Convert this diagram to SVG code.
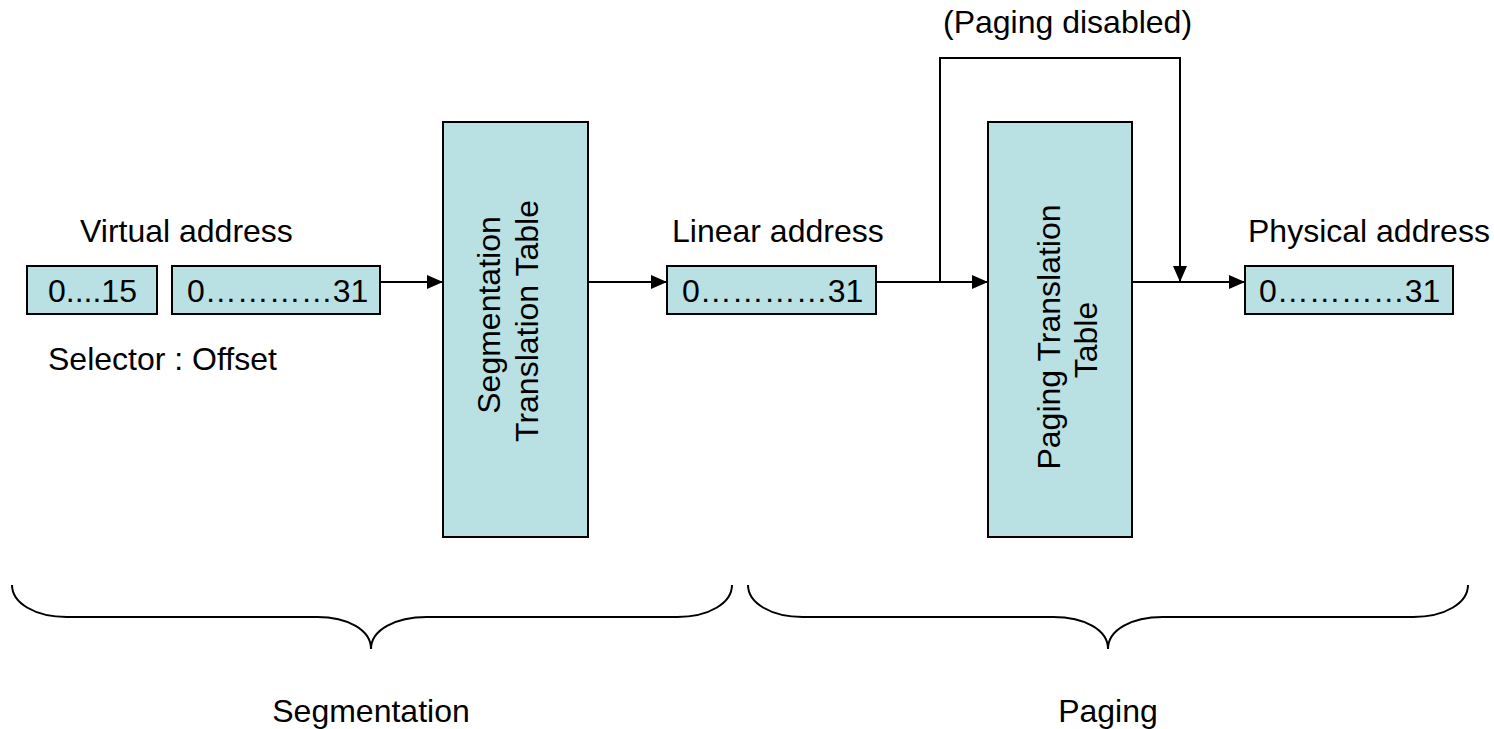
<svg xmlns="http://www.w3.org/2000/svg" width="1494" height="729" viewBox="0 0 1494 729">
  <defs>
    <marker id="arrow" viewBox="0 0 16 14" refX="16" refY="7" markerWidth="16" markerHeight="14" markerUnits="userSpaceOnUse" orient="auto">
      <path d="M0,0 L16,7 L0,14 Z" fill="#000"/>
    </marker>
    <style>
      .box { fill: #B9E0E3; stroke: #000; stroke-width: 2; }
      .lbl { font-family: "Liberation Sans", Arial, sans-serif; font-size: 32px; fill: #000; }
      .mid { text-anchor: middle; }
      .wire { fill: none; stroke: #000; stroke-width: 2; }
      .brace { fill: none; stroke: #000; stroke-width: 2; }
    </style>
  </defs>
  <rect width="1494" height="729" fill="#fff"/>

  <!-- virtual address: selector and offset -->
  <g id="virtual-address">
    <text class="lbl" x="80" y="242">Virtual address</text>
    <rect class="box" x="27" y="266" width="130" height="48"/>
    <text class="lbl" x="48" y="302">0....15</text>
    <rect class="box" x="172" y="266" width="208" height="48"/>
    <text class="lbl" x="187" y="302">0…………31</text>
    <text class="lbl" x="48" y="370">Selector : Offset</text>
  </g>

  <g id="segmentation-table">
    <rect class="box" x="443" y="122" width="145" height="415"/>
    <text class="lbl mid" transform="translate(500,315) rotate(-90)">Segmentation</text>
    <text class="lbl mid" transform="translate(538,321) rotate(-90)">Translation Table</text>
  </g>

  <g id="linear-address">
    <text class="lbl" x="672" y="242">Linear address</text>
    <rect class="box" x="667" y="266" width="209" height="48"/>
    <text class="lbl" x="682" y="302">0…………31</text>
  </g>

  <g id="paging-table">
    <rect class="box" x="988" y="122" width="144" height="415"/>
    <text class="lbl mid" transform="translate(1060,337) rotate(-90)">Paging Translation</text>
    <text class="lbl mid" transform="translate(1097,340) rotate(-90)">Table</text>
  </g>

  <g id="physical-address">
    <text class="lbl" x="1248" y="242">Physical address</text>
    <rect class="box" x="1245" y="266" width="208" height="48"/>
    <text class="lbl" x="1259" y="302">0…………31</text>
  </g>

  <g id="paging-disabled-label">
    <text class="lbl" x="943" y="33">(Paging disabled)</text>
  </g>

  <!-- data flow -->
  <g id="connectors">
    <line class="wire" x1="380" y1="282" x2="443" y2="282" marker-end="url(#arrow)"/>
    <line class="wire" x1="588" y1="282" x2="667" y2="282" marker-end="url(#arrow)"/>
    <line class="wire" x1="876" y1="282" x2="988" y2="282" marker-end="url(#arrow)"/>
    <line class="wire" x1="1132" y1="282" x2="1245" y2="282" marker-end="url(#arrow)"/>
    <!-- bypass when paging is off -->
    <polyline class="wire" points="940,282 940,58 1180,58 1180,282" marker-end="url(#arrow)"/>
  </g>

  <!-- stage braces -->
  <g id="segmentation-stage">
    <path class="brace" d="M12,585 C12,603 35,617 67,617 L317,617 C348,617 371,630 371,649 C371,630 395,617 427,617 L677,617 C709,617 732,603 732,585"/>
    <text class="lbl mid" x="371" y="722">Segmentation</text>
  </g>
  <g id="paging-stage">
    <path class="brace" d="M748,585 C748,603 771,617 803,617 L1053,617 C1085,617 1108,630 1108,649 C1108,630 1131,617 1163,617 L1413,617 C1445,617 1468,603 1468,585"/>
    <text class="lbl mid" x="1108" y="722">Paging</text>
  </g>
</svg>
